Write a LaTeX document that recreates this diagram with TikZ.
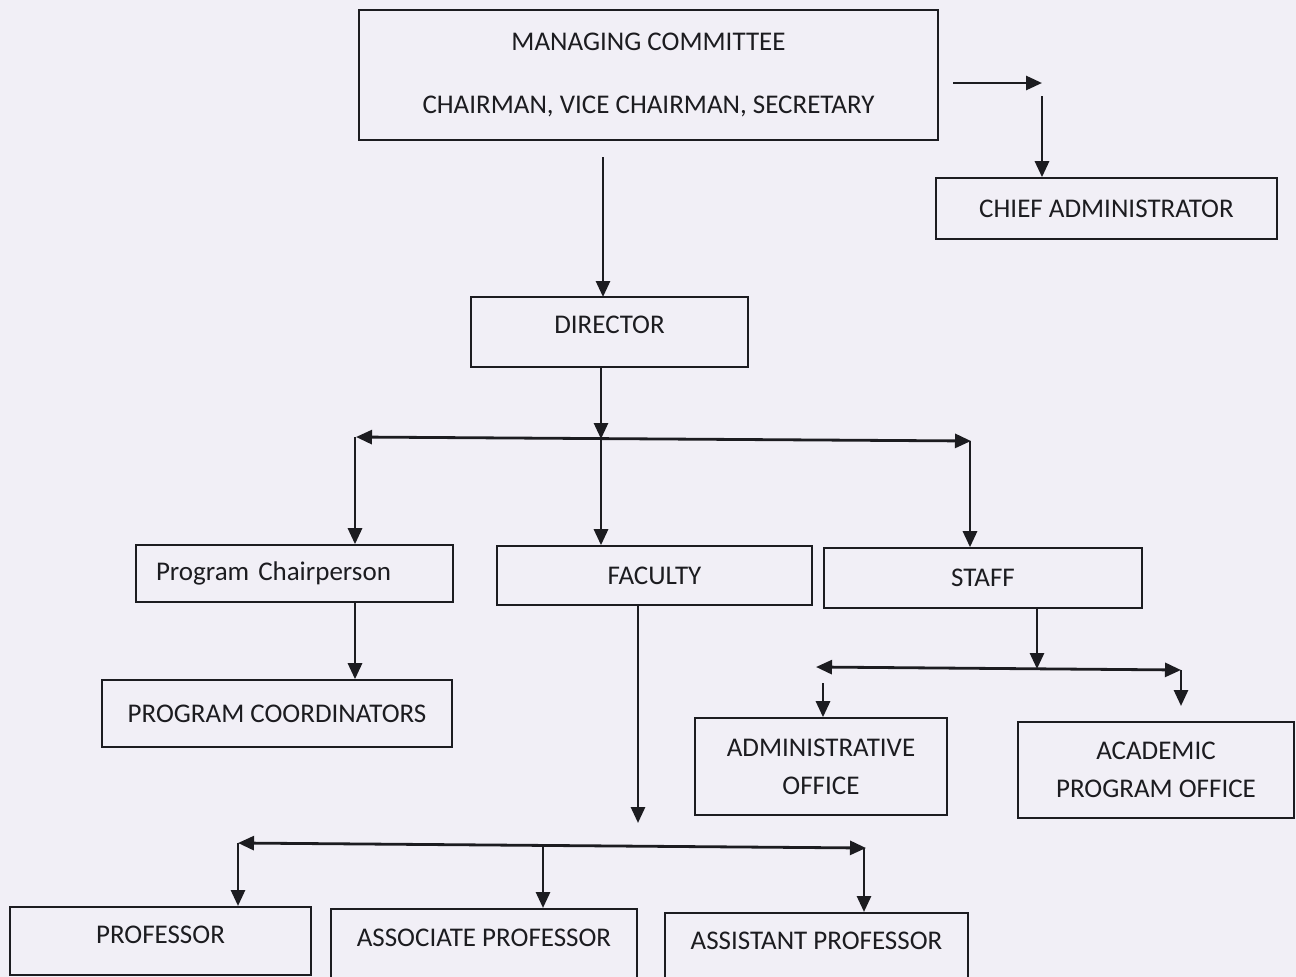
\documentclass[tikz,border=0pt]{standalone}
\usepackage{fontspec}
\setmainfont{Carlito}
\usetikzlibrary{arrows.meta}
\definecolor{paper}{RGB}{241,239,246}
\definecolor{ink}{RGB}{28,28,32}
\begin{document}
\begin{tikzpicture}[x=1pt,y=-1pt,
  box/.style={draw=ink, line width=1.6pt, inner sep=0pt, text=ink,
    font=\fontsize{27}{30}\selectfont},
  conn/.style={draw=ink, line width=2.8pt, -{Triangle[length=16pt,width=14pt]}},
  bus/.style={draw=ink, line width=2.8pt,
    {Triangle[length=16pt,width=14pt]}-{Triangle[length=16pt,width=14pt]}}]
\fill[paper] (0,0) rectangle (1296,977);
\useasboundingbox (0,0) rectangle (1296,977);

% boxes
\node[box, minimum width=579pt, minimum height=130pt, align=center,
  font=\fontsize{27}{63}\selectfont] (mc) at (648.5,75)
  {MANAGING COMMITTEE\\CHAIRMAN, VICE CHAIRMAN, SECRETARY};
\node[box, minimum width=341pt, minimum height=61pt] (chief) at (1106.5,208.5) {CHIEF ADMINISTRATOR};
\node[box, minimum width=277pt, minimum height=70pt, text height=36pt, text depth=34pt] (dir) at (609.5,332) {DIRECTOR};
\node[box, minimum width=317pt, minimum height=57pt, inner xsep=20pt, text width=277pt, align=left] (pc) at (294.5,573.5) {Program Chairperson};
\node[box, minimum width=315pt, minimum height=59pt] (fac) at (654.5,575.5) {FACULTY};
\node[box, minimum width=318pt, minimum height=60pt] (staff) at (983,578) {STAFF};
\node[box, minimum width=350pt, minimum height=67pt] (pcoord) at (277,713.5) {PROGRAM COORDINATORS};
\node[box, minimum width=252pt, minimum height=97pt, align=center,
  font=\fontsize{27}{38}\selectfont] (adm) at (821,766.5) {ADMINISTRATIVE\\OFFICE};
\node[box, minimum width=276pt, minimum height=96pt, align=center,
  font=\fontsize{27}{38}\selectfont] (acad) at (1156,770) {ACADEMIC\\PROGRAM OFFICE};
\node[box, anchor=north, minimum width=301pt, text height=37pt, text depth=31pt] (prof) at (160.5,906) {PROFESSOR};
\node[box, anchor=north, minimum width=306pt, text height=38pt, text depth=32pt] (assoc) at (484,908) {ASSOCIATE PROFESSOR};
\node[box, anchor=north, minimum width=303pt, text height=37pt, text depth=36pt] (asst) at (816.5,912) {ASSISTANT PROFESSOR};

% managing committee -> director
\coordinate (mcd) at (603,157);
\draw[conn] (mcd) -- (603,297);

% managing committee -> chief administrator
\coordinate (c1) at (953,83);
\coordinate (c2) at (1042,83);
\coordinate (c3) at (1042,96);
\draw[conn] (c1) -- (c2);
\draw[conn] (c3) -- (chief.north -| c3);

% director -> bus
\coordinate (b1) at (601,439);
\draw[conn] (dir.south -| b1) -- (b1);
\coordinate (bl) at (356,437);
\coordinate (br) at (971,441);
\draw[bus] (bl) -- (br);
\draw[conn] (355,437) -- (pc.north -| 355,0);
\draw[conn] (b1) -- (fac.north -| b1);
\draw[conn] (970,441) -- (staff.north -| 970,0);

% program chairperson -> coordinators
\draw[conn] (pc.south -| 355,0) -- (pcoord.north -| 355,0);

% staff -> offices
\coordinate (s1) at (1037,669);
\draw[conn] (staff.south -| s1) -- (s1);
\draw[bus] (816,667) -- (1181,670);
\coordinate (a1) at (823,683);
\draw[conn] (a1) -- (adm.north -| a1);
\coordinate (a2) at (1181,670);
\draw[conn] (a2) -- (1181,706);

% faculty -> professors
\coordinate (f1) at (638,823);
\draw[conn] (fac.south -| f1) -- (f1);
\draw[bus] (238,843) -- (866,848);
\draw[conn] (238,843) -- (prof.north -| 238,0);
\draw[conn] (543,845.5) -- (assoc.north -| 543,0);
\draw[conn] (864,848) -- (asst.north -| 864,0);
\end{tikzpicture}
\end{document}
